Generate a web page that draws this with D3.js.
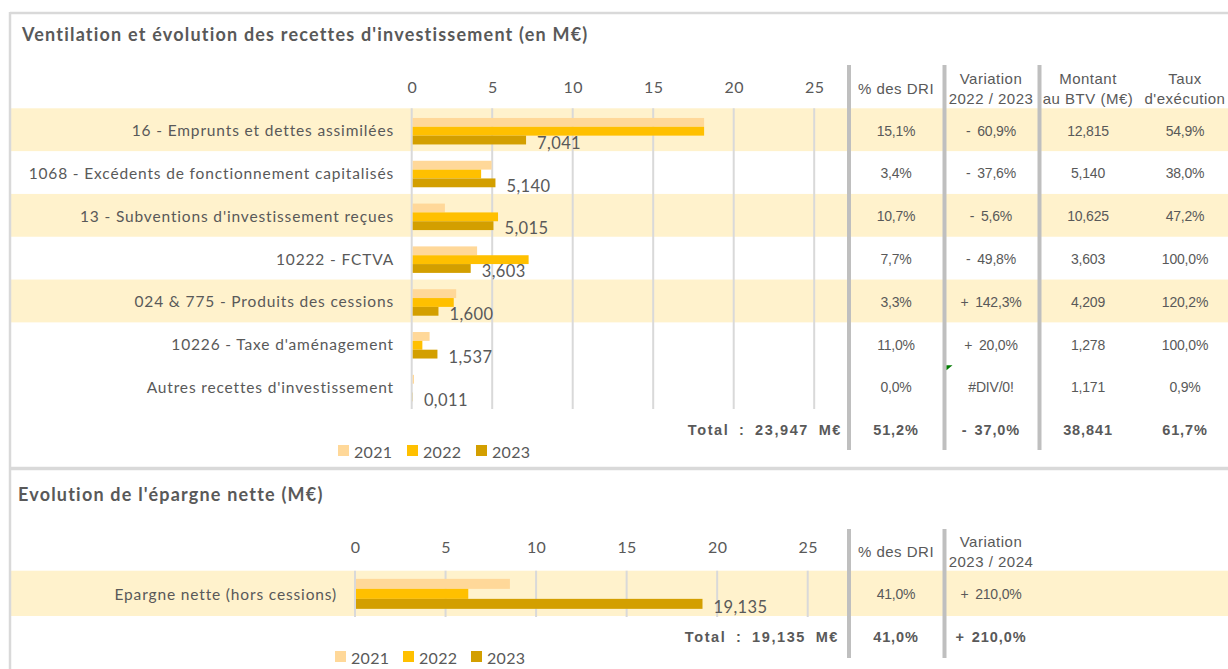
<!DOCTYPE html>
<html>
<head>
<meta charset="utf-8">
<script src="https://cdn.jsdelivr.net/npm/d3@7"></script>
<style>
  body { margin: 0; background: #fff; }
  svg { display: block; }
  .lbl { font-family: Lato, "Open Sans", sans-serif; fill: #595959; }
  .tbl { font-family: "Liberation Sans", Arial, sans-serif; fill: #595959; }
</style>
</head>
<body>
<div id="chart"></div>
<script>
// --- data, section 1
const categories = [
    "16 - Emprunts et dettes assimilées",
    "1068 - Excédents de fonctionnement capitalisés",
    "13 - Subventions d'investissement reçues",
    "10222 - FCTVA",
    "024 & 775 - Produits des cessions",
    "10226 - Taxe d'aménagement",
    "Autres recettes d'investissement"
];
const years = ["2021", "2022", "2023"];
const values2021 = [18.1, 4.9, 2.0, 4.0, 2.7, 1.05, 0.08];
const values2022 = [18.1, 4.25, 5.3, 7.2, 2.55, 0.6, 0.0];
const values2023 = [7.041, 5.140, 5.015, 3.603, 1.600, 1.537, 0.011];
const pctDRI = ["15,1%", "3,4%", "10,7%", "7,7%", "3,3%", "11,0%", "0,0%"];
const variation = ["- 60,9%", "- 37,6%", "- 5,6%", "- 49,8%", "+ 142,3%", "+ 20,0%", "#DIV/0!"];
const montantBTV = ["12,815", "5,140", "10,625", "3,603", "4,209", "1,278", "1,171"];
const tauxExec = ["54,9%", "38,0%", "47,2%", "100,0%", "120,2%", "100,0%", "0,9%"];
const totals = ["51,2%", "- 37,0%", "38,841", "61,7%"];
const totalText = "Total :  23,947 M€";
const headers = [["% des DRI"], ["Variation", "2022 / 2023"], ["Montant", "au BTV (M€)"], ["Taux", "d'exécution"]];

// --- data, section 2
const epargneCategories = ["Epargne nette (hors cessions)"];
const epargne2021 = [8.5];
const epargne2022 = [6.2];
const epargne2023 = [19.135];
const epargnePct = ["41,0%"];
const epargneVariation = ["+ 210,0%"];
const epargneTotals = ["41,0%", "+ 210,0%"];
const epargneTotalText = "Total :  19,135 M€";
const epargneHeaders = [["% des DRI"], ["Variation", "2023 / 2024"]];

const tickValues = [0, 5, 10, 15, 20, 25];

const width = 1228;
const height = 669;
const colors = { "2021": "#ffd899", "2022": "#ffc000", "2023": "#d39f00" };
const bandColor = "#fff2cc";
const sepColor = "#bfbfbf";
const frameColor = "#d9d9d9";
const colCenters = [896, 991, 1088, 1185];
const sepX = [849, 944.5, 1039.5];

const fr = d3.formatLocale({ decimal: ",", thousands: " ", grouping: [3], currency: ["", " €"] });
const fmt3 = fr.format(".3f");

const svg = d3.select("#chart").append("svg")
    .attr("width", width)
    .attr("height", height);

function section(opts) {
    let g = svg.append("g");

    let y = d3.scaleBand()
        .domain(opts.categories)
        .range(opts.yRange);

    let x = d3.scaleLinear()
        .domain([0, 25])
        .range(opts.xRange);

    let inner = d3.scaleBand()
        .domain(years)
        .range([0, opts.groupHeight]);

    let offset = (y.bandwidth() - opts.groupHeight) / 2 + opts.groupShift;

    // row shading
    g.selectAll(".band")
        .data(opts.categories.filter((d, i) => opts.shaded(i)))
        .enter().append("rect")
        .attr("x", 11)
        .attr("y", d => y(d))
        .attr("width", width - 11)
        .attr("height", y.bandwidth())
        .attr("fill", bandColor);

    // gridlines
    g.selectAll(".grid")
        .data(tickValues)
        .enter().append("line")
        .attr("x1", d => x(d))
        .attr("x2", d => x(d))
        .attr("y1", opts.yRange[0])
        .attr("y2", opts.yRange[1] + 1)
        .attr("stroke", frameColor)
        .attr("stroke-width", 2);

    // tick labels
    let axis = g.append("g")
        .attr("transform", `translate(0, ${opts.tickY})`)
        .call(d3.axisTop(x).tickValues(tickValues).tickSize(0).tickPadding(0));
    axis.select(".domain").remove();
    axis.selectAll("text")
        .attr("class", "lbl")
        .attr("dy", "0.35em")
        .style("font-size", "16px")
        .style("letter-spacing", "0.3px")
        .attr("fill", "#595959");

    // category labels
    g.selectAll(".cat")
        .data(opts.categories)
        .enter().append("text")
        .attr("class", "lbl")
        .attr("x", opts.labelX)
        .attr("y", d => y(d) + y.bandwidth() / 2 + 1)
        .attr("dy", "0.35em")
        .attr("text-anchor", "end")
        .style("font-size", "15.5px")
        .style("letter-spacing", "0.85px")
        .text(d => d);

    // bars
    let rows = opts.categories.map((c, i) => ({
        cat: c,
        vals: years.map((yr, j) => ({ year: yr, value: opts.series[j][i] }))
    }));

    let rowG = g.selectAll(".row")
        .data(rows)
        .enter().append("g")
        .attr("transform", d => `translate(0, ${y(d.cat) + offset})`);

    rowG.selectAll("rect")
        .data(d => d.vals)
        .enter().append("rect")
        .attr("x", x(0) + 1)
        .attr("y", d => inner(d.year))
        .attr("width", d => Math.max(0, x(d.value) - x(0)))
        .attr("height", inner.bandwidth())
        .attr("fill", d => colors[d.year]);

    rowG.append("text")
        .attr("class", "lbl")
        .attr("x", d => x(d.vals[2].value) + 12)
        .attr("y", inner("2023") + inner.bandwidth() / 2 + 3)
        .attr("dy", "0.35em")
        .style("font-size", "16.5px")
        .style("letter-spacing", "0.4px")
        .attr("fill", "#404040")
        .text(d => fmt3(d.vals[2].value));

    // table cells
    opts.columns.forEach((col, ci) => {
        g.selectAll(".cell" + ci)
            .data(col)
            .enter().append("text")
            .attr("class", "tbl")
            .attr("x", colCenters[ci])
            .attr("y", (d, i) => y(opts.categories[i]) + y.bandwidth() / 2 + 1)
            .attr("dy", "0.35em")
            .attr("text-anchor", "middle")
            .style("font-size", "14px")
            .style("letter-spacing", "-0.2px")
            .style("word-spacing", "3px")
            .text(d => d);
    });

    // headers
    opts.headers.forEach((lines, ci) => {
        let t = g.append("text")
            .attr("class", "tbl")
            .attr("text-anchor", "middle")
            .style("font-size", "15px")
            .style("letter-spacing", "0.5px");
        lines.forEach((line, li) => {
            t.append("tspan")
                .attr("x", colCenters[ci])
                .attr("y", lines.length === 1 ? opts.headerY : opts.headerY - 10 + li * 20)
                .attr("dy", "0.35em")
                .text(line);
        });
    });

    // total row
    g.append("text")
        .attr("class", "tbl")
        .attr("x", opts.totalX)
        .attr("y", opts.totalY)
        .attr("dy", "0.35em")
        .attr("text-anchor", "end")
        .style("font-size", "14.5px")
        .style("font-weight", "bold")
        .style("letter-spacing", "1.6px")
        .style("word-spacing", "4px")
        .text(opts.totalText);

    g.selectAll(".tot")
        .data(opts.totals)
        .enter().append("text")
        .attr("class", "tbl")
        .attr("x", (d, i) => colCenters[i])
        .attr("y", opts.totalY)
        .attr("dy", "0.35em")
        .attr("text-anchor", "middle")
        .style("font-size", "14.5px")
        .style("font-weight", "bold")
        .style("letter-spacing", "0.9px")
        .style("word-spacing", "2px")
        .text(d => d);

    // column separators
    g.selectAll(".sep")
        .data(sepX.slice(0, opts.headers.length))
        .enter().append("line")
        .attr("x1", d => d)
        .attr("x2", d => d)
        .attr("y1", opts.sepRange[0])
        .attr("y2", opts.sepRange[1])
        .attr("stroke", sepColor)
        .attr("stroke-width", 4);

    // legend
    let legend = g.selectAll(".legend")
        .data(years)
        .enter().append("g")
        .attr("transform", (d, i) => `translate(${opts.legendX + i * opts.legendStep}, ${opts.legendY})`);
    legend.append("rect")
        .attr("x", 0)
        .attr("y", -6)
        .attr("width", 11)
        .attr("height", 11)
        .attr("fill", d => colors[d]);
    legend.append("text")
        .attr("class", "lbl")
        .attr("x", 16)
        .attr("y", 1)
        .attr("dy", "0.35em")
        .style("font-size", "16px")
        .style("letter-spacing", "0.3px")
        .text(d => d);

    // title
    g.append("text")
        .attr("class", "lbl")
        .attr("x", opts.titleX)
        .attr("y", opts.titleY)
        .attr("dy", "0.35em")
        .style("font-size", "18px")
        .style("font-weight", "bold")
        .style("letter-spacing", "1.2px")
        .style("word-spacing", opts.titleWordSpacing)
        .text(opts.title);

    return { g, y, x };
}

// section 1
let s1 = section({
    title: "Ventilation et évolution des recettes d'investissement (en M€)",
    titleX: 22, titleY: 35, titleWordSpacing: "0px",
    categories: categories,
    series: [values2021, values2022, values2023],
    yRange: [108.3, 408],
    xRange: [411.7, 814.2],
    groupHeight: 26.5,
    groupShift: 1.5,
    shaded: i => i % 2 === 0 && i < 6,
    tickY: 87,
    labelX: 394,
    columns: [pctDRI, variation, montantBTV, tauxExec],
    headers: headers,
    headerY: 88.5,
    totals: totals,
    totalText: totalText,
    totalX: 842,
    totalY: 430,
    sepRange: [65, 450],
    legendX: 338, legendStep: 69, legendY: 451
});

// small excel error marker in the #DIV/0! cell
s1.g.append("path")
    .attr("d", `M${sepX[1] + 2},${s1.y(categories[6])} l6,0 l-6,5 z`)
    .attr("fill", "#007a00");

// section 2
section({
    title: "Evolution de l'épargne nette (M€)",
    titleX: 18, titleY: 495, titleWordSpacing: "0px",
    categories: epargneCategories,
    series: [epargne2021, epargne2022, epargne2023],
    yRange: [570.7, 616],
    xRange: [355, 807.7],
    groupHeight: 30,
    groupShift: 0.5,
    shaded: i => true,
    tickY: 547,
    labelX: 337,
    columns: [epargnePct, epargneVariation],
    headers: epargneHeaders,
    headerY: 552,
    totals: epargneTotals,
    totalText: epargneTotalText,
    totalX: 839,
    totalY: 637,
    sepRange: [529, 658],
    legendX: 335, legendStep: 68, legendY: 657
});

// frame
svg.append("line")
    .attr("x1", 10).attr("x2", width)
    .attr("y1", 13).attr("y2", 13)
    .attr("stroke", frameColor).attr("stroke-width", 2.5);
svg.append("line")
    .attr("x1", 10).attr("x2", 10)
    .attr("y1", 12).attr("y2", height)
    .attr("stroke", frameColor).attr("stroke-width", 2.5);
svg.append("line")
    .attr("x1", 10).attr("x2", width)
    .attr("y1", 468.5).attr("y2", 468.5)
    .attr("stroke", frameColor).attr("stroke-width", 3.5);
</script>
</body>
</html>
